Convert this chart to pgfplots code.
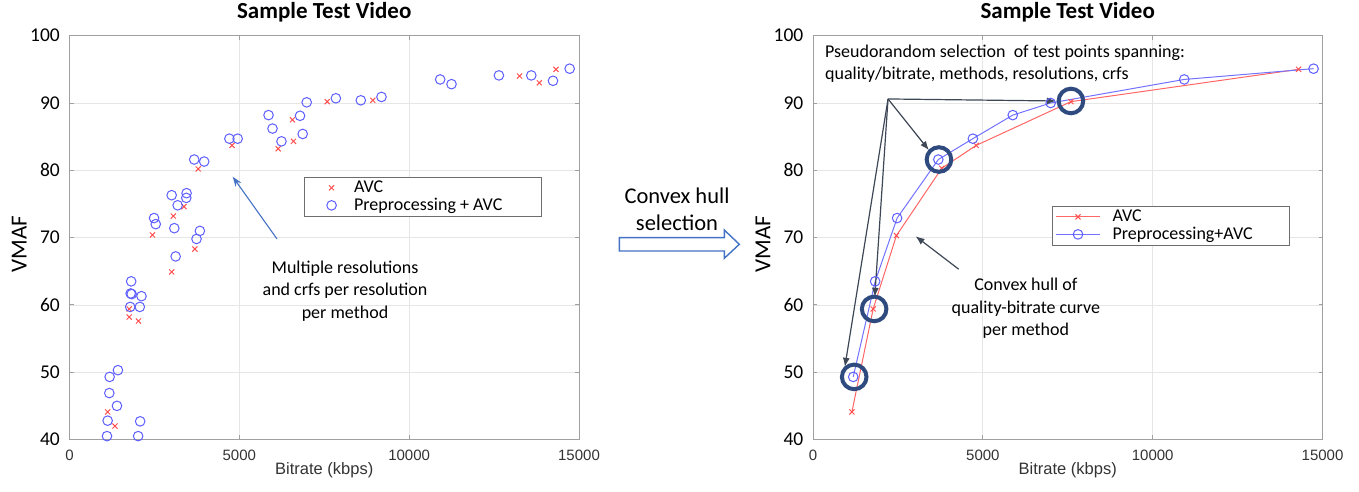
\documentclass[border=0pt]{standalone}
\usepackage{fontspec}
\setmainfont{Carlito}
\newfontfamily\arialfont{Liberation Sans}
\usepackage{pgfplots}
\pgfplotsset{compat=1.18}
\usetikzlibrary{arrows.meta}

\definecolor{avcred}{HTML}{FF5050}
\definecolor{ppblue}{HTML}{5E5EFF}
\definecolor{avcline}{HTML}{FF6666}
\definecolor{ppline}{HTML}{7272FF}
\definecolor{gridgray}{HTML}{E6E6E6}
\definecolor{axisgray}{HTML}{A0A0A0}
\definecolor{legendgray}{HTML}{6E6E6E}
\definecolor{navy}{HTML}{2E4A7E}
\definecolor{arrowgray}{HTML}{3E4756}
\definecolor{annoblue}{HTML}{4472C4}
\definecolor{labelgray}{HTML}{333333}

\pgfplotsset{
  mystyle/.style={
    scale only axis, width=509.5pt, height=403.8pt,
    xmin=0, xmax=15000, ymin=40, ymax=100,
    xtick={0,5000,10000,15000}, ytick={40,50,...,100},
    grid=major, grid style={color=gridgray, line width=0.7pt},
    axis line style={color=axisgray, line width=0.9pt},
    tick style={color=axisgray, line width=0.9pt},
    tick align=inside, major tick length=4pt,
    scaled x ticks=false,
    /pgf/number format/1000 sep={},
    /pgf/number format/assume math mode=true,
    xticklabel style={font=\arialfont\fontsize{15}{15}\selectfont, text=labelgray, anchor=center, yshift=-16pt},
    yticklabel style={font=\fontsize{19.5}{19.5}\selectfont, text=black, anchor=east, inner sep=0pt, xshift=-9.5pt},
    title style={font=\bfseries\fontsize{23}{23}\selectfont, at={(axis description cs:0.5,1.0438)}, anchor=center},
    xlabel style={font=\arialfont\fontsize{16.5}{16.5}\selectfont, text=labelgray, at={(axis description cs:0.5,-0.0755)}, anchor=center},
    ylabel style={font=\fontsize{23}{23}\selectfont, anchor=center},
    legend cell align=left,
  },
  scatterlegend/.style={legend image code/.code={\draw[opacity=0] (0pt,-5pt) rectangle (40pt,5pt); \draw[mark repeat=2,mark phase=2,##1] plot coordinates {(0pt,0pt) (20pt,0pt) (40pt,0pt)};}},
  linelegend/.style={legend image code/.code={\draw[mark repeat=2,mark phase=2,##1] plot coordinates {(0pt,0pt) (22pt,0pt) (44pt,0pt)};}},
}

\begin{document}
\begin{tikzpicture}
\useasboundingbox (0pt,0pt) rectangle (1359pt,492pt);

% ---------------- Left chart ----------------
\begin{axis}[mystyle, at={(69.5pt,52.5pt)}, anchor=south west,
  title={Sample Test Video}, xlabel={Bitrate (kbps)}, ylabel={VMAF},
  ylabel style={at={(axis description cs:-0.0985,0.484)}},
  legend style={at={(axis description cs:0.4602,0.6506)}, anchor=north west,
    draw=legendgray, line width=0.9pt, font=\fontsize{18}{18}\selectfont,
    inner xsep=6.7pt, inner ysep=2pt, fill=white}]
\addplot[only marks, mark=x, mark size=3.6pt, color=avcred, mark options={line width=1pt}, scatterlegend] coordinates {
(1123,44.1) (1338,42.0) (1758,59.4) (1758,58.2) (2031,57.6) (2441,70.4)
(3008,64.9) (3057,73.2) (3369,74.6) (3691,68.3) (3789,80.2) (4785,83.7)
(6143,83.2) (6563,87.5) (6592,84.3) (7588,90.2) (8929,90.4) (13251,94.0)
(13831,93.0) (14322,95.0)
};
\addlegendentry{AVC}
\addplot[only marks, mark=o, mark size=4.8pt, color=ppblue, mark options={line width=1pt}, scatterlegend] coordinates {
(1104,40.5) (2021,40.5) (1123,42.8) (2080,42.7) (1397,45.0) (1172,46.9)
(1182,49.3) (1426,50.3) (1787,59.7) (2070,59.7) (2119,61.3) (1800,61.7)
(1830,61.6) (1816,63.5) (2490,72.9) (2539,72.0) (3008,76.3) (3184,74.8)
(3447,76.6) (3438,75.9) (3086,71.4) (3125,67.2) (3838,71.0) (3740,69.8)
(3672,81.6) (3965,81.3) (4707,84.7) (4951,84.7) (5860,88.2) (5977,86.2)
(6240,84.3) (6787,88.1) (6865,85.4) (6983,90.1) (7842,90.7) (8576,90.4)
(9185,90.9) (10913,93.5) (11247,92.8) (12642,94.1) (13595,94.1) (14234,93.3)
(14725,95.1)
};
\addlegendentry{Preprocessing + AVC\rule{30pt}{0pt}}
\draw[-{Stealth[length=10pt,width=7pt]}, color=annoblue, line width=1.1pt] (axis cs:6109,69.8) -- (axis cs:4805,79.05);
\node[font=\fontsize{18}{22.5}\selectfont, align=center, anchor=center] at (axis cs:8111,62.1)
  {Multiple resolutions\\and crfs per resolution\\per method};
\end{axis}

% ---------------- Middle block arrow ----------------
\draw[color=annoblue, line width=1.4pt, fill=white, line join=miter]
  (619.3pt,254.3pt) -- (724.3pt,254.3pt) -- (724.3pt,262pt) -- (739.3pt,247.7pt)
  -- (724.3pt,233.7pt) -- (724.3pt,241pt) -- (619.3pt,241pt) -- cycle;
\node[font=\fontsize{22.5}{27}\selectfont, align=center, anchor=center] at (677pt,282.8pt)
  {Convex hull\\selection};

% ---------------- Right chart ----------------
\begin{axis}[mystyle, at={(813pt,52.5pt)}, anchor=south west,
  title={Sample Test Video}, xlabel={Bitrate (kbps)}, ylabel={VMAF},
  ylabel style={at={(axis description cs:-0.098,0.484)}},
  legend style={at={(axis description cs:0.4692,0.5787)}, anchor=north west,
    draw=legendgray, line width=0.9pt, font=\fontsize{18}{18}\selectfont,
    inner xsep=3pt, inner ysep=2pt, column sep=10pt, fill=white}]
\addplot[color=avcline, line width=1pt, mark=x, mark size=3.6pt, mark options={color=avcred, line width=1pt}, linelegend] coordinates {
(1145,44.1) (1771,59.4) (2456,70.3) (3790,80.3) (4804,83.7) (7593,90.2) (14296,95.0)
};
\addlegendentry{AVC}
\addplot[color=ppline, line width=1pt, mark=o, mark size=4.8pt, mark options={color=ppblue, line width=1pt}, linelegend] coordinates {
(1184,49.3) (1830,63.5) (2476,72.9) (3689,81.6) (4706,84.7) (5881,88.2) (6996,90.0) (10930,93.5) (14736,95.1)
};
\addlegendentry{Preprocessing+AVC\rule{32pt}{0pt}}
\addplot[only marks, mark=o, mark size=12.3pt, color=navy, mark options={line width=4pt}, forget plot] coordinates {
(1213,49.3) (1800,59.4) (3708,81.6) (7593,90.3)
};
\draw[-{Latex[length=9pt,width=7pt]}, color=arrowgray, line width=1.2pt] (axis cs:2209,90.6) -- (axis cs:7146,90.3);
\draw[-{Latex[length=9pt,width=7pt]}, color=arrowgray, line width=1.2pt] (axis cs:2209,90.6) -- (axis cs:3411,83.0);
\draw[-{Latex[length=9pt,width=7pt]}, color=arrowgray, line width=1.2pt] (axis cs:2209,90.6) -- (axis cs:1818,61.2);
\draw[-{Latex[length=9pt,width=7pt]}, color=arrowgray, line width=1.2pt] (axis cs:2209,90.6) -- (axis cs:938,50.8);
\draw[-{Latex[length=9pt,width=7pt]}, color=arrowgray, line width=1.2pt] (axis cs:4290,65.3) -- (axis cs:3020,70.2);
\node[font=\fontsize{18}{22}\selectfont, align=left, anchor=west, inner sep=0pt] at (axis cs:352,95.8)
  {Pseudorandom selection\ \ of test points spanning:\\quality/bitrate, methods, resolutions, crfs};
\node[font=\fontsize{18}{22.5}\selectfont, align=center, anchor=center] at (axis cs:6267,59.5)
  {Convex hull of\\quality-bitrate curve\\per method};
\end{axis}
\end{tikzpicture}
\end{document}
